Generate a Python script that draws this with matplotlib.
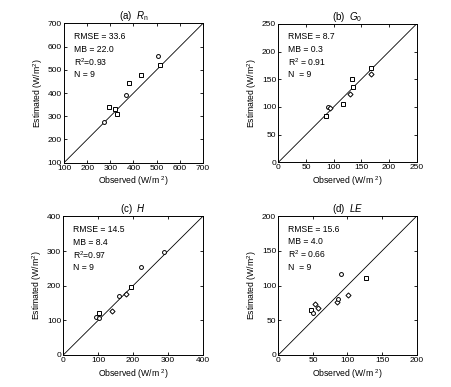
import matplotlib
matplotlib.use("Agg")
import matplotlib.pyplot as plt

plt.rcParams["font.family"] = ["Liberation Sans", "DejaVu Sans"]
plt.rcParams["mathtext.fontset"] = "custom"
plt.rcParams["mathtext.rm"] = "Liberation Sans"
plt.rcParams["mathtext.it"] = "Liberation Sans:italic"

# Observed / estimated values per flux
rn_obs = [273, 293, 319, 330, 366, 381, 434, 506, 513]
rn_est = [277, 340, 331, 311, 391, 445, 479, 559, 521]
rn_mk = ["o", "s", "s", "s", "o", "s", "s", "o", "s"]

g0_obs = [85.5, 90.4, 93.4, 116.3, 129.5, 132.5, 135.5, 166.9, 167.5]
g0_est = [83.7, 99.4, 97.6, 105.4, 123.5, 150.6, 135.5, 169.9, 159.6]
g0_mk = ["s", "o", "D", "s", "D", "s", "s", "s", "D"]

h_obs = [93.8, 103.3, 102.4, 138.8, 160.8, 178.9, 193.3, 223, 289]
h_est = [109, 120.5, 106, 126.3, 170.6, 175.4, 196.6, 253.5, 297.8]
h_mk = ["o", "s", "o", "D", "o", "D", "s", "o", "o"]

le_obs = [46.7, 49.6, 53, 56.9, 85.3, 86.7, 90.6, 100.2, 126.3]
le_est = [64.7, 61, 73.9, 67.1, 76.7, 80, 116, 86.3, 110.3]
le_mk = ["s", "o", "D", "D", "D", "o", "o", "D", "s"]

panels = [
    ("(a)  $R_{\\mathrm{n}}$", rn_obs, rn_est, rn_mk, (100, 700), [100, 200, 300, 400, 500, 600, 700],
     ["RMSE = 33.6", "MB = 22.0", "R$^2$=0.93", "N = 9"]),
    ("(b)  $G_0$", g0_obs, g0_est, g0_mk, (0, 250), [0, 50, 100, 150, 200, 250],
     ["RMSE = 8.7", "MB = 0.3", "R$^2$ = 0.91", "N  = 9"]),
    ("(c)  $H$", h_obs, h_est, h_mk, (0, 400), [0, 100, 200, 300, 400],
     ["RMSE = 14.5", "MB = 8.4", "R$^2$=0.97", "N = 9"]),
    ("(d)  $LE$", le_obs, le_est, le_mk, (0, 200), [0, 50, 100, 150, 200],
     ["RMSE = 15.6", "MB = 4.0", "R$^2$ = 0.66", "N  = 9"]),
]

positions = [
    [0.1416, 0.5796, 0.3075, 0.360],
    [0.6157, 0.5805, 0.3062, 0.358],
    [0.1400, 0.0827, 0.3085, 0.358],
    [0.6157, 0.0827, 0.3062, 0.359],
]

fig = plt.figure(figsize=(4.52, 3.87), dpi=100)

for pos, (title, obs, est, mks, lim, ticks, stats) in zip(positions, panels):
    ax = fig.add_axes(pos)
    ax.plot(lim, lim, color="black", lw=0.6)
    for x, y, m in zip(obs, est, mks):
        ax.plot(x, y, linestyle="none", marker=m, ms=2.8 if m != "D" else 2.6,
                mfc="white", mec="black", mew=0.7)
    ax.set_xlim(lim)
    ax.set_ylim(lim)
    ax.set_xticks(ticks)
    ax.set_yticks(ticks)
    ax.tick_params(direction="in", length=2.5, width=0.6, labelsize=6,
                   top=True, right=True, pad=1.5)
    for s in ax.spines.values():
        s.set_linewidth(0.7)
    ax.set_title(title, fontsize=7, pad=3)
    ax.set_xlabel("Observed (W/m $^2$)", fontsize=6.2, labelpad=2)
    ax.set_ylabel("Estimated (W/m$^2$)", fontsize=6.2, labelpad=2)
    for i, t in enumerate(stats):
        ax.text(0.07, 0.905 - i * 0.091, t, transform=ax.transAxes,
                fontsize=6.2, va="center", ha="left")

fig.savefig("out.png", dpi=100)
